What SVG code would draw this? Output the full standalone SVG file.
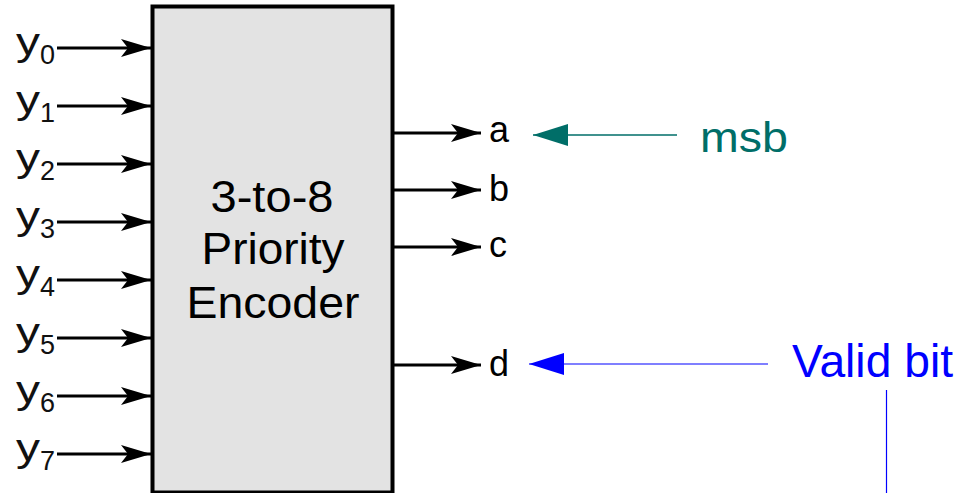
<svg xmlns="http://www.w3.org/2000/svg" width="963" height="493" viewBox="0 0 963 493">
<defs>
<marker id="ah" viewBox="0 0 30 18" refX="30" refY="9" markerWidth="30" markerHeight="18" markerUnits="userSpaceOnUse" orient="auto">
<path d="M0,0 L30,9 L0,18 L7,9 Z" fill="#000"/>
</marker>
<marker id="ahT" viewBox="0 0 35 22" refX="35" refY="11" markerWidth="35" markerHeight="22" markerUnits="userSpaceOnUse" orient="auto">
<path d="M0,0 L35,11 L0,22 Z" fill="#006e68"/>
</marker>
<marker id="ahB" viewBox="0 0 35 22" refX="35" refY="11" markerWidth="35" markerHeight="22" markerUnits="userSpaceOnUse" orient="auto">
<path d="M0,0 L35,11 L0,22 Z" fill="#0000ff"/>
</marker>
</defs>
<style>
text{font-family:"Liberation Sans",Arial,sans-serif;}
.lbl{font-size:38px;fill:#111;}
.sub{font-size:27px;fill:#111;}
.out{font-size:36px;fill:#000;}
.ctr{font-size:44px;fill:#000;text-anchor:middle;}
.w{stroke:#000;stroke-width:3;fill:none;marker-end:url(#ah);}
</style>
<rect width="963" height="493" fill="#fff"/>
<g id="encoder">
<rect x="152.5" y="6.5" width="240" height="486" fill="#e3e3e3" stroke="#000" stroke-width="4"/>
<text class="ctr" x="272" y="212" textLength="123" lengthAdjust="spacingAndGlyphs">3-to-8</text>
<text class="ctr" x="273" y="264" textLength="143" lengthAdjust="spacingAndGlyphs">Priority</text>
<text class="ctr" x="273" y="318" textLength="173" lengthAdjust="spacingAndGlyphs">Encoder</text>
</g>
<g id="inputs">
<g id="y0"><text class="lbl" x="16" y="55" textLength="24" lengthAdjust="spacingAndGlyphs">y</text><text class="sub" x="40" y="64">0</text></g>
<g id="y1"><text class="lbl" x="16" y="113" textLength="24" lengthAdjust="spacingAndGlyphs">y</text><text class="sub" x="40" y="122">1</text></g>
<g id="y2"><text class="lbl" x="16" y="171" textLength="24" lengthAdjust="spacingAndGlyphs">y</text><text class="sub" x="40" y="180">2</text></g>
<g id="y3"><text class="lbl" x="16" y="229" textLength="24" lengthAdjust="spacingAndGlyphs">y</text><text class="sub" x="40" y="238">3</text></g>
<g id="y4"><text class="lbl" x="16" y="287" textLength="24" lengthAdjust="spacingAndGlyphs">y</text><text class="sub" x="40" y="296">4</text></g>
<g id="y5"><text class="lbl" x="16" y="345" textLength="24" lengthAdjust="spacingAndGlyphs">y</text><text class="sub" x="40" y="354">5</text></g>
<g id="y6"><text class="lbl" x="16" y="403" textLength="24" lengthAdjust="spacingAndGlyphs">y</text><text class="sub" x="40" y="412">6</text></g>
<g id="y7"><text class="lbl" x="16" y="461" textLength="24" lengthAdjust="spacingAndGlyphs">y</text><text class="sub" x="40" y="470">7</text></g>
</g>
<g id="outputs">
<g id="a"><text class="out" x="489" y="142">a</text></g>
<g id="b"><text class="out" x="489" y="201">b</text></g>
<g id="c"><text class="out" x="489" y="257">c</text></g>
<g id="d"><text class="out" x="489" y="376">d</text></g>
</g>
<g id="msb-note"><text x="700" y="152" font-size="42" fill="#006e68" textLength="88" lengthAdjust="spacingAndGlyphs">msb</text></g>
<g id="valid-note"><text x="792" y="377" font-size="47" fill="#0000ff" textLength="161" lengthAdjust="spacingAndGlyphs">Valid bit</text></g>
<g id="connectors">
<line class="w" x1="57" y1="48" x2="151" y2="48"/>
<line class="w" x1="57" y1="106" x2="151" y2="106"/>
<line class="w" x1="57" y1="164" x2="151" y2="164"/>
<line class="w" x1="57" y1="222" x2="151" y2="222"/>
<line class="w" x1="57" y1="280" x2="151" y2="280"/>
<line class="w" x1="57" y1="338" x2="151" y2="338"/>
<line class="w" x1="57" y1="396" x2="151" y2="396"/>
<line class="w" x1="57" y1="454" x2="151" y2="454"/>
<line class="w" x1="393" y1="133" x2="481" y2="133"/>
<line class="w" x1="393" y1="190" x2="481" y2="190"/>
<line class="w" x1="393" y1="247" x2="481" y2="247"/>
<line class="w" x1="393" y1="365" x2="481" y2="365"/>
<line x1="677" y1="135" x2="533" y2="135" stroke="#006e68" stroke-width="1.5" marker-end="url(#ahT)"/>
<line x1="768" y1="364" x2="529" y2="364" stroke="#0000ff" stroke-width="1.2" marker-end="url(#ahB)"/>
<line x1="886.5" y1="390" x2="886.5" y2="493" stroke="#0000ff" stroke-width="1.2"/>
</g>
</svg>
